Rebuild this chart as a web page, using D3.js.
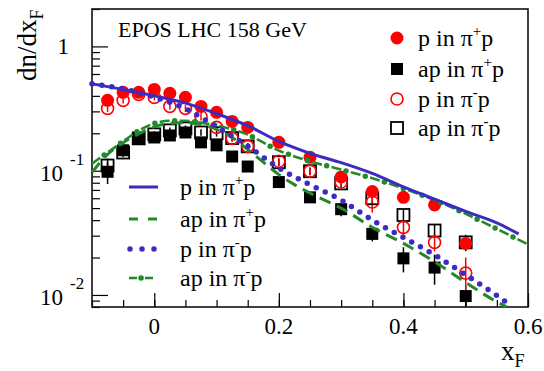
<!DOCTYPE html>
<html>
<head>
<meta charset="utf-8">
<script src="https://cdn.jsdelivr.net/npm/d3@7"></script>
<style>
body { margin: 0; background: #fff; }
</style>
</head>
<body>
<svg width="544" height="371" font-family="'Liberation Serif', 'Times New Roman', 'DejaVu Serif', serif"></svg>
<script>
// data points (xF bins)
const dataX = [-0.075, -0.05, -0.025, 0, 0.025, 0.05, 0.075, 0.1, 0.125, 0.15, 0.2, 0.25, 0.3, 0.35, 0.4, 0.45, 0.5]
const pPip = [0.368, 0.427, 0.427, 0.451, 0.42, 0.389, 0.329, 0.295, 0.249, 0.223, 0.169, 0.128, 0.089, 0.068, 0.061, 0.053, 0.026]
const pPipErr = [0.01, 0.01, 0.01, 0.01, 0.01, 0.01, 0.01, 0.008, 0.007, 0.006, 0.005, 0.004, 0.003, 0.003, 0.003, 0.003, 0.002]
const apPip = [0.098, 0.146, 0.182, 0.185, 0.192, 0.203, 0.169, 0.160, 0.130, 0.108, 0.081, 0.061, 0.049, 0.031, 0.0197, 0.0166, 0.0098]
const apPipErr = [0.02, 0.015, 0.012, 0.012, 0.012, 0.012, 0.012, 0.012, 0.01, 0.008, 0.006, 0.005, 0.006, 0.004, 0.0045, 0.0045, 0.002]
const pPim = [0.317, 0.368, 0.411, 0.389, 0.329, 0.317, 0.273, 0.223, 0.182, 0.157, 0.119, 0.099, 0.081, 0.056, 0.035, 0.0265, 0.015]
const pPimErr = [0.02, 0.02, 0.02, 0.02, 0.02, 0.02, 0.02, 0.015, 0.012, 0.01, 0.008, 0.007, 0.006, 0.01, 0.005, 0.004, 0.005]
const apPim = [0.110, 0.140, 0.182, 0.196, 0.211, 0.219, 0.203, 0.200, 0.183, 0.157, 0.117, 0.099, 0.079, 0.060, 0.044, 0.033, 0.0265]
const apPimErr = [0.015, 0.012, 0.012, 0.012, 0.012, 0.012, 0.012, 0.012, 0.01, 0.01, 0.008, 0.007, 0.006, 0.007, 0.005, 0.004, 0.004]

// EPOS LHC curves
const eposPipX = [-0.1, -0.05, 0, 0.05, 0.1, 0.15, 0.2, 0.25, 0.3, 0.35, 0.4, 0.45, 0.5, 0.55, 0.585]
const eposPipY = [0.50, 0.45, 0.40, 0.35, 0.288, 0.23, 0.172, 0.138, 0.116, 0.095, 0.074, 0.059, 0.047, 0.038, 0.031]
const eposPimX = [-0.1, -0.05, 0, 0.05, 0.1, 0.15, 0.2, 0.25, 0.3, 0.35, 0.4, 0.45, 0.5, 0.55, 0.57]
const eposPimY = [0.50, 0.455, 0.39, 0.315, 0.225, 0.158, 0.105, 0.077, 0.058, 0.040, 0.029, 0.021, 0.0145, 0.0099, 0.0084]
const eposApPipX = [-0.1, -0.075, -0.05, -0.025, 0, 0.025, 0.05, 0.075, 0.1, 0.125, 0.15, 0.175, 0.2, 0.25, 0.3, 0.35, 0.4, 0.45, 0.5, 0.55, 0.566]
const eposApPipY = [0.097, 0.135, 0.168, 0.198, 0.225, 0.24, 0.243, 0.235, 0.215, 0.185, 0.148, 0.117, 0.093, 0.066, 0.050, 0.035, 0.026, 0.0185, 0.0126, 0.0088, 0.0080]
const eposApPimX = [-0.1, -0.075, -0.05, -0.025, 0, 0.025, 0.05, 0.075, 0.1, 0.15, 0.2, 0.25, 0.3, 0.35, 0.4, 0.45, 0.5, 0.55, 0.6]
const eposApPimY = [0.114, 0.14, 0.172, 0.21, 0.24, 0.252, 0.252, 0.243, 0.231, 0.195, 0.145, 0.119, 0.102, 0.087, 0.072, 0.058, 0.045, 0.034, 0.0255]

const xTicks = [0, 0.2, 0.4, 0.6]
const xTickLabels = ['0', '0.2', '0.4', '0.6']
const yDecades = [1, 0.1, 0.01]

const blue = '#3a2bc2'
const green = '#23892a'
const serif = "'Liberation Serif', 'Times New Roman', 'DejaVu Serif', serif"

const svg = d3.select('svg')
const x = d3.scaleLinear().domain([-0.1, 0.6]).range([92, 528])
const y = d3.scaleLog().domain([0.008, 2]).range([307, 9])

// ticks
const xMinor = d3.range(-0.1, 0.6001, 0.05)
svg.append('g').attr('transform', 'translate(0,307)')
    .call(d3.axisBottom(x).tickValues(xMinor).tickSize(-7).tickFormat(''))
svg.append('g').attr('transform', 'translate(0,307)')
    .call(d3.axisBottom(x).tickValues(xTicks).tickSize(-14).tickFormat(''))

let yMinor = []
yDecades.concat([0.001]).forEach(dec => {
    for (let k = 2; k < 10; k++) {
        let v = dec * k
        if (v >= 0.008 && v <= 2) yMinor.push(v)
    }
})
svg.append('g').attr('transform', 'translate(92,0)')
    .call(d3.axisLeft(y).tickValues(yMinor).tickSize(-8).tickFormat(''))
svg.append('g').attr('transform', 'translate(92,0)')
    .call(d3.axisLeft(y).tickValues(yDecades).tickSize(-16).tickFormat(''))
svg.selectAll('.domain').remove()
svg.selectAll('.tick line').attr('stroke', '#000').attr('stroke-width', 1.2)

// frame
svg.append('rect')
    .attr('x', 92).attr('y', 9).attr('width', 436).attr('height', 298)
    .attr('fill', 'none').attr('stroke', '#1a0a1a').attr('stroke-width', 1.6)

// tick labels
svg.selectAll('.xlab').data(xTicks).enter().append('text')
    .attr('x', d => x(d)).attr('y', 334)
    .attr('text-anchor', 'middle').style('font-family', serif).style('font-size', '23px')
    .text((d, i) => xTickLabels[i])

svg.append('text').attr('x', 69).attr('y', y(1) + 8)
    .attr('text-anchor', 'end').style('font-family', serif).style('font-size', '23px').text('1')
yDecades.slice(1).forEach((d, i) => {
    svg.append('text').attr('x', 63).attr('y', y(d) + 10)
        .attr('text-anchor', 'end').style('font-family', serif).style('font-size', '23px').text('10')
    svg.append('text').attr('x', 70).attr('y', y(d) - 6)
        .style('font-family', serif).style('font-size', '17px').text('-' + (i + 1))
})

// axis titles
svg.append('text').attr('x', 501).attr('y', 360).style('font-family', serif).style('font-size', '27px')
    .html('x<tspan dy="7" style="font-size:18px">F</tspan>')
svg.append('text').attr('transform', 'translate(36,81) rotate(-90)')
    .style('font-family', serif).style('font-size', '27px')
    .html('dn/dx<tspan dy="7" style="font-size:18px">F</tspan>')

svg.append('text').attr('x', 118).attr('y', 37).style('font-family', serif).style('font-size', '22px')
    .text('EPOS LHC 158 GeV')

// data
function errBars(vals, errs, color) {
    svg.append('g').selectAll('line').data(dataX).enter().append('line')
        .attr('x1', d => x(d)).attr('x2', d => x(d))
        .attr('y1', (d, i) => y(vals[i] + errs[i]))
        .attr('y2', (d, i) => y(Math.max(vals[i] - errs[i], 0.0081)))
        .attr('stroke', color).attr('stroke-width', 1.5)
}
errBars(apPim, apPimErr, '#000')
errBars(apPip, apPipErr, '#000')
errBars(pPim, pPimErr, '#f00')
errBars(pPip, pPipErr, '#f00')

function squares(vals, filled) {
    svg.append('g').selectAll('rect').data(dataX).enter().append('rect')
        .attr('x', d => x(d) - 6).attr('y', (d, i) => y(vals[i]) - 6)
        .attr('width', 12).attr('height', 12)
        .attr('fill', filled ? '#000' : 'none')
        .attr('stroke', '#000').attr('stroke-width', filled ? 0 : 1.8)
}
function circles(vals, filled) {
    svg.append('g').selectAll('circle').data(dataX).enter().append('circle')
        .attr('cx', d => x(d)).attr('cy', (d, i) => y(vals[i]))
        .attr('r', filled ? 6.5 : 6)
        .attr('fill', filled ? '#f00' : 'none')
        .attr('stroke', '#f00').attr('stroke-width', filled ? 0 : 1.6)
}
squares(apPip, true)
squares(apPim, false)
circles(pPip, true)
circles(pPim, false)

// curves
const line = d3.line().x(d => x(d[0])).y(d => y(d[1])).curve(d3.curveMonotoneX)
function curve(xs, ys) { return line(xs.map((v, i) => [v, ys[i]])) }

svg.append('path').attr('d', curve(eposApPipX, eposApPipY))
    .attr('fill', 'none').attr('stroke', green).attr('stroke-width', 3).attr('stroke-dasharray', '12 7')
svg.append('path').attr('d', curve(eposApPimX, eposApPimY))
    .attr('fill', 'none').attr('stroke', green).attr('stroke-width', 2.6).attr('stroke-dasharray', '10 10')
svg.append('path').attr('d', curve(eposApPimX, eposApPimY))
    .attr('fill', 'none').attr('stroke', green).attr('stroke-width', 5.5).attr('stroke-linecap', 'round')
    .attr('stroke-dasharray', '0 20').attr('stroke-dashoffset', -15)
svg.append('path').attr('d', curve(eposPimX, eposPimY))
    .attr('fill', 'none').attr('stroke', blue).attr('stroke-width', 5.5).attr('stroke-linecap', 'round')
    .attr('stroke-dasharray', '0 10')
svg.append('path').attr('d', curve(eposPipX, eposPipY))
    .attr('fill', 'none').attr('stroke', blue).attr('stroke-width', 3)

// legend: data markers
const legLabels = [['p in \u03c0', '+'], ['ap in \u03c0', '+'], ['p in \u03c0', '-'], ['ap in \u03c0', '-']]
const legRows = [38, 69, 99, 128]
function legText(g, xx, yy, lab) {
    g.append('text').attr('x', xx).attr('y', yy + 8).style('font-family', serif).style('font-size', '24px')
        .html(lab[0] + '<tspan dy="-10" style="font-size:15px">' + lab[1] + '</tspan><tspan dy="10">p</tspan>')
}
const lg = svg.append('g')
lg.append('circle').attr('cx', 397).attr('cy', legRows[0]).attr('r', 6.5).attr('fill', '#f00')
lg.append('rect').attr('x', 391).attr('y', legRows[1] - 6).attr('width', 12).attr('height', 12).attr('fill', '#000')
lg.append('circle').attr('cx', 397).attr('cy', legRows[2]).attr('r', 6).attr('fill', 'none').attr('stroke', '#f00').attr('stroke-width', 1.6)
lg.append('rect').attr('x', 391).attr('y', legRows[3] - 6).attr('width', 12).attr('height', 12).attr('fill', 'none').attr('stroke', '#000').attr('stroke-width', 1.8)
legLabels.forEach((lab, i) => legText(lg, 418, legRows[i], lab))

// legend: model lines
const modRows = [187, 219, 249, 278]
const ml = svg.append('g')
ml.append('line').attr('x1', 129).attr('x2', 158).attr('y1', modRows[0]).attr('y2', modRows[0])
    .attr('stroke', blue).attr('stroke-width', 3)
ml.append('line').attr('x1', 129).attr('x2', 158).attr('y1', modRows[1]).attr('y2', modRows[1])
    .attr('stroke', green).attr('stroke-width', 3).attr('stroke-dasharray', '9 10')
ml.append('line').attr('x1', 130).attr('x2', 158).attr('y1', modRows[2]).attr('y2', modRows[2])
    .attr('stroke', blue).attr('stroke-width', 5.5).attr('stroke-linecap', 'round').attr('stroke-dasharray', '0 12')
ml.append('line').attr('x1', 129).attr('x2', 158).attr('y1', modRows[3]).attr('y2', modRows[3])
    .attr('stroke', green).attr('stroke-width', 2.6).attr('stroke-dasharray', '8 8')
ml.append('line').attr('x1', 141).attr('x2', 141.1).attr('y1', modRows[3]).attr('y2', modRows[3])
    .attr('stroke', green).attr('stroke-width', 5.5).attr('stroke-linecap', 'round')
legLabels.forEach((lab, i) => legText(ml, 180, modRows[i], lab))
</script>
</body>
</html>
